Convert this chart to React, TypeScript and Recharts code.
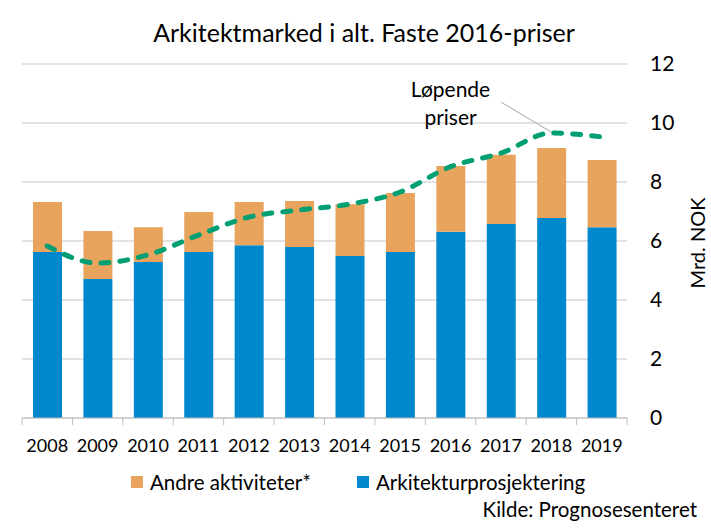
import { Bar, CartesianGrid, ComposedChart, Line, ReferenceDot, ReferenceLine, XAxis, YAxis } from 'recharts'

const years = ['2008', '2009', '2010', '2011', '2012', '2013', '2014', '2015', '2016', '2017', '2018', '2019']
const arkitektur = [5.63, 4.71, 5.29, 5.63, 5.86, 5.8, 5.49, 5.63, 6.31, 6.58, 6.78, 6.47]
const andre = [1.69, 1.63, 1.18, 1.35, 1.46, 1.56, 1.76, 2.0, 2.23, 2.34, 2.37, 2.28]
const lopende = [5.83, 5.25, 5.53, 6.2, 6.81, 7.05, 7.25, 7.66, 8.52, 8.98, 9.66, 9.53]
const yTicks = [0, 2, 4, 6, 8, 10, 12]
const legendItems = ['Andre aktiviteter*', 'Arkitekturprosjektering']

const COLORS = { blue: '#0088CE', orange: '#E8A45C', green: '#009E73', grid: '#D9D9D9', axis: '#BFBFBF' }
const FONT = 'Lato, "Open Sans", sans-serif'
const W = 711
const H = 532
const M = { top: 64, right: 0, bottom: 74, left: 22 }
const Y_AXIS_W = 84
const BAND = (W - M.left - M.right - Y_AXIS_W) / years.length
const AXIS_Y = 418

const data = years.map((year, i) => ({ year, arkitektur: arkitektur[i], andre: andre[i], lopende: lopende[i] }))

function YearTick(props: any) {
  const { x, payload, index } = props
  const left = x - BAND / 2
  return (
    <g>
      <line x1={left} x2={left} y1={AXIS_Y} y2={AXIS_Y + 7} stroke={COLORS.axis} />
      {index === years.length - 1 && (
        <line x1={left + BAND} x2={left + BAND} y1={AXIS_Y} y2={AXIS_Y + 7} stroke={COLORS.axis} />
      )}
      <text x={x} y={AXIS_Y + 34} textAnchor="middle" fontSize={18} fill="#000" fontFamily={FONT}>
        {payload.value}
      </text>
    </g>
  )
}

function AnnotationText(props: any) {
  const { cx, cy } = props
  return (
    <text x={cx} y={cy} textAnchor="middle" fontSize={21} fontFamily={FONT} fill="#000">
      <tspan x={cx} dy={-7}>Løpende</tspan>
      <tspan x={cx} dy={28}>priser</tspan>
    </text>
  )
}

export default function App() {
  const legendColors = [COLORS.orange, COLORS.blue]
  return (
    <div style={{ position: 'absolute', left: 0, top: 0, width: W, height: H, background: '#fff', fontFamily: FONT }}>
      <div style={{ position: 'absolute', top: 17, left: 0, width: 728, textAlign: 'center', fontSize: 25, color: '#000' }}>
        Arkitektmarked i alt. Faste 2016-priser
      </div>
      <ComposedChart width={W} height={H} data={data} margin={M}>
        <CartesianGrid vertical={false} stroke={COLORS.grid} strokeWidth={1.5} />
        <XAxis
          dataKey="year"
          stroke={COLORS.axis}
          tickLine={false}
          tickSize={0}
          tickMargin={0}
          interval={0}
          tick={<YearTick />}
          height={40}
        />
        <YAxis
          orientation="right"
          domain={[0, 12]}
          ticks={yTicks}
          width={Y_AXIS_W}
          axisLine={false}
          tickLine={false}
          tickSize={0}
          tickMargin={23}
          tick={{ fontSize: 21, fill: '#000', fontFamily: FONT, textAnchor: 'start' }}
        />
        <Bar dataKey="arkitektur" name="Arkitekturprosjektering" stackId="a" fill={COLORS.blue} barSize={29} isAnimationActive={false} />
        <Bar dataKey="andre" name="Andre aktiviteter*" stackId="a" fill={COLORS.orange} barSize={29} isAnimationActive={false} />
        <Line
          type="monotone"
          dataKey="lopende"
          name="Løpende priser"
          stroke={COLORS.green}
          strokeWidth={5}
          strokeDasharray="8 11"
          strokeLinecap="round"
          dot={false}
          isAnimationActive={false}
        />
        <ReferenceLine
          segment={[
            { x: '2017', y: 10.71 },
            { x: '2018', y: 9.69 },
          ]}
          stroke="#A6A6A6"
          strokeWidth={1}
        />
        <ReferenceDot x="2016" y={10.66} r={0} shape={<AnnotationText />} />
      </ComposedChart>
      <div style={{ position: 'absolute', top: 470, left: 131, display: 'flex', gap: 46, fontSize: 20.5, color: '#000' }}>
        {legendItems.map((name, i) => (
          <div key={name} style={{ display: 'flex', alignItems: 'center', gap: 7 }}>
            <span style={{ width: 12, height: 12, background: legendColors[i], display: 'inline-block' }} />
            <span>{name}</span>
          </div>
        ))}
      </div>
      <div
        style={{
          position: 'absolute',
          left: 697,
          top: 243,
          transform: 'translate(-50%, -50%) rotate(-90deg)',
          fontSize: 20,
          whiteSpace: 'nowrap',
          color: '#000',
        }}
      >
        Mrd. NOK
      </div>
      <div style={{ position: 'absolute', right: 14, top: 497, fontSize: 20.5, color: '#000' }}>Kilde: Prognosesenteret</div>
    </div>
  )
}
